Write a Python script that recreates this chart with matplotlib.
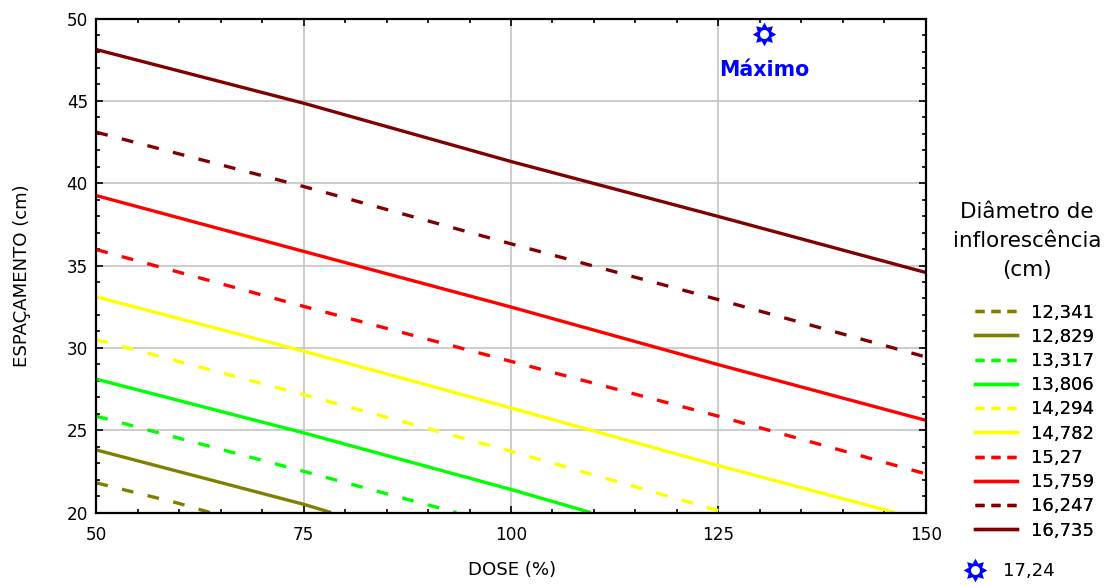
import matplotlib
matplotlib.use('Agg')
import matplotlib.pyplot as plt
import numpy as np
from matplotlib.lines import Line2D
from matplotlib.path import Path
from matplotlib.ticker import MultipleLocator

plt.rcParams['font.family'] = ['DejaVu Sans']
plt.rcParams['lines.scale_dashes'] = False

# ---- data ----
levels = ['12,341', '12,829', '13,317', '13,806', '14,294',
          '14,782', '15,27', '15,759', '16,247', '16,735']
colors = ['#808000', '#808000', '#00ff00', '#00ff00', '#ffff00',
          '#ffff00', '#ff0000', '#ff0000', '#800000', '#800000']
styles = ['--', '-', '--', '-', '--', '-', '--', '-', '--', '-']

dose_12341 = [50, 60, 63.7]
esp_12341 = [21.8, 20.55, 20.0]
dose_12829 = [50, 75, 78.3]
esp_12829 = [23.8, 20.5, 20.0]
dose_13317 = [50, 75, 93.4]
esp_13317 = [25.85, 22.5, 20.0]
dose_13806 = [50, 75, 100, 109.6]
esp_13806 = [28.1, 24.84, 21.4, 20.0]
dose_14294 = [50, 75, 100, 125.8]
esp_14294 = [30.5, 27.16, 23.72, 20.0]
dose_14782 = [50, 75, 100, 125, 146.3]
esp_14782 = [33.1, 29.8, 26.35, 22.85, 20.0]
dose_15270 = [50, 75, 100, 125, 150]
esp_15270 = [35.97, 32.52, 29.18, 25.85, 22.35]
dose_15759 = [50, 75, 100, 125, 150]
esp_15759 = [39.25, 35.86, 32.48, 28.98, 25.6]
dose_16247 = [50, 75, 100, 125, 150]
esp_16247 = [43.1, 39.8, 36.32, 32.93, 29.45]
dose_16735 = [50, 75, 100, 125, 150]
esp_16735 = [48.12, 44.86, 41.32, 37.98, 34.58]

series_x = [dose_12341, dose_12829, dose_13317, dose_13806, dose_14294,
            dose_14782, dose_15270, dose_15759, dose_16247, dose_16735]
series_y = [esp_12341, esp_12829, esp_13317, esp_13806, esp_14294,
            esp_14782, esp_15270, esp_15759, esp_16247, esp_16735]

max_dose = [130.5]
max_esp = [49.05]
max_label = '17,24'

x_ticks = [50, 75, 100, 125, 150]
y_ticks = [20, 25, 30, 35, 40, 45, 50]


def star_marker():
    n = 8
    ang = np.linspace(0, 2 * np.pi, 2 * n, endpoint=False) + np.pi / 2
    r = np.where(np.arange(2 * n) % 2 == 0, 1.0, 0.62)
    outer = np.column_stack([r * np.cos(ang), r * np.sin(ang)])
    t = np.linspace(0, 2 * np.pi, 25)[:-1]
    inner = np.column_stack([0.38 * np.cos(-t), 0.38 * np.sin(-t)])
    verts = np.vstack([outer, outer[:1], inner, inner[:1]])
    codes = ([Path.MOVETO] + [Path.LINETO] * (2 * n - 1) + [Path.CLOSEPOLY]
             + [Path.MOVETO] + [Path.LINETO] * (len(inner) - 1) + [Path.CLOSEPOLY])
    return Path(verts, codes)


STAR = star_marker()
BLUE = '#0000ff'

fig = plt.figure(figsize=(11.12, 5.85), dpi=100)
ax = fig.add_axes([0.0866, 0.1239, 0.8325 - 0.0866, 0.9682 - 0.1239])

for xs, ys, c, ls in zip(series_x, series_y, colors, styles):
    line, = ax.plot(xs, ys, color=c, lw=2.4, solid_capstyle='butt')
    if ls == '--':
        line.set_dashes((8.5, 10.5))
        line.set_dash_capstyle('butt')

ax.plot(max_dose, max_esp, linestyle='none', marker=STAR, markersize=17,
        markerfacecolor=BLUE, markeredgewidth=0, clip_on=False, zorder=5)
ax.text(max_dose[0], 46.85, 'Máximo', color=BLUE, fontsize=14.8,
        fontweight='bold', ha='center', va='center')

ax.set_xlim(50, 150)
ax.set_ylim(20, 50)
ax.set_xticks(x_ticks)
ax.set_yticks(y_ticks)
ax.xaxis.set_minor_locator(MultipleLocator(5))
ax.yaxis.set_minor_locator(MultipleLocator(1))
ax.tick_params(which='both', direction='in', top=True, right=True,
               color='black', width=1.2)
ax.tick_params(which='major', length=5, labelsize=12.2)
ax.tick_params(axis='x', which='major', pad=10)
ax.tick_params(axis='y', which='major', pad=6)
ax.tick_params(which='minor', length=3)
ax.grid(True, which='major', color='#c0c0c0', lw=1.1)
ax.set_axisbelow(True)
for sp in ax.spines.values():
    sp.set_linewidth(1.6)
    sp.set_color('black')

fig.text(512 / 1112, 1 - 570 / 585, 'DOSE (%)', ha='center', va='center',
         fontsize=13.1)
fig.text(22 / 1112, 1 - 276 / 585, 'ESPAÇAMENTO (cm)', ha='center',
         va='center', rotation=90, fontsize=13.1)

# legend title
fig.text(1027 / 1112, 1 - 241 / 585, 'Diâmetro de\ninflorescência\n(cm)',
         ha='center', va='center', multialignment='center',
         fontsize=15.5, linespacing=1.58)

handles = []
for c, ls in zip(colors, styles):
    h = Line2D([], [], color=c, lw=2.4)
    if ls == '--':
        h.set_dashes((6.5, 5.0))
    handles.append(h)

leg = fig.legend(handles, levels, loc='upper left',
                 bbox_to_anchor=(975 / 1112, 1 - 303.5 / 585),
                 frameon=False, fontsize=13, handlelength=2.33,
                 handletextpad=0.78, labelspacing=0.345,
                 borderaxespad=0, borderpad=0)
fig.add_artist(leg)

star_h = Line2D([], [], linestyle='none', marker=STAR, markersize=17,
                markerfacecolor=BLUE, markeredgewidth=0)
leg2 = fig.legend([star_h], [max_label], loc='center left',
                  bbox_to_anchor=(964 / 1112, 1 - 571 / 585),
                  frameon=False, fontsize=13, handlelength=1.2,
                  handletextpad=0.96, borderaxespad=0, borderpad=0)

fig.savefig('out.png', dpi=100)
